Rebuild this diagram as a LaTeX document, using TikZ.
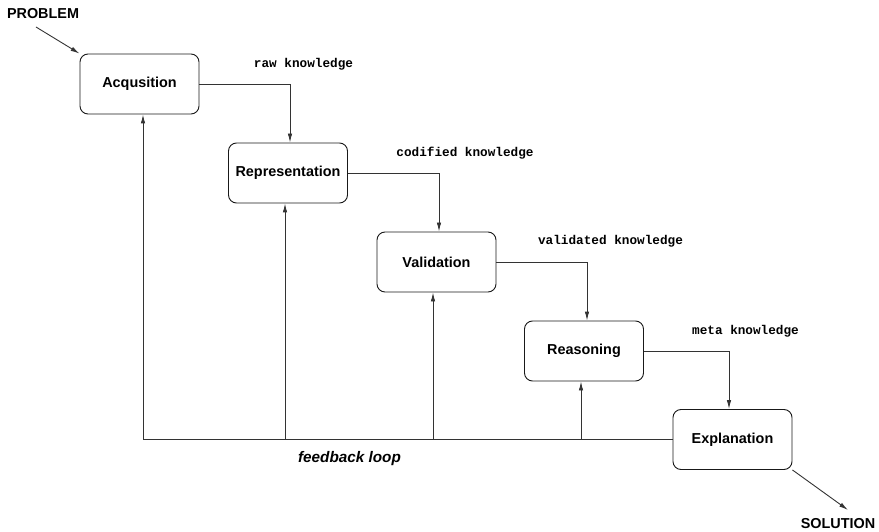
\documentclass[tikz,border=0pt]{standalone}
\usepackage{fontspec}
\setmainfont{Liberation Sans}
\newfontfamily\monob{Liberation Mono}
\usetikzlibrary{arrows.meta,calc}
\tikzset{
  stage/.style={draw=black!90, line width=0.9pt, rounded corners=8pt, minimum width=119pt, minimum height=60pt, inner sep=0pt, font=\fontsize{14.4}{16}\selectfont\bfseries},
  flow/.style={draw=black!80, line width=0.9pt, -{Latex[length=9pt,width=4.5pt]}},
  plain/.style={draw=black!80, line width=0.9pt},
  klabel/.style={font=\monob\fontsize{12.7}{14}\selectfont\bfseries, inner sep=0pt},
  endlabel/.style={font=\fontsize{14.4}{16}\selectfont\bfseries, inner sep=0pt}
}
\begin{document}
\begin{tikzpicture}[x=1pt,y=-1pt]
\useasboundingbox (0,0) rectangle (879,532);
\node[stage] (acq) at (139.5,84) {Acqusition};
\node[stage] (rep) at (288,173) {Representation};
\node[stage] (val) at (436.5,262) {Validation};
\node[stage] (rea) at (584,351) {Reasoning};
\node[stage] (exp) at (732.5,439.5) {Explanation};

\node[klabel] (l1) at (303.5,64.5) {raw knowledge};
\node[klabel] (l2) at (465,153.5) {codified knowledge};
\node[klabel] (l3) at (610.5,241.5) {validated knowledge};
\node[klabel] (l4) at (745.5,331) {meta knowledge};

\node[endlabel] (prob) at (43,14) {PROBLEM};
\node[endlabel] (sol) at (838,524) {SOLUTION};
\node[font=\fontsize{15.3}{17}\selectfont\bfseries\itshape, inner sep=0pt] (fbl) at (349.5,459) {feedback loop};

\coordinate (pin) at (36,27);
\coordinate (sout) at (848,510);
\draw[flow] (pin) -- (acq.north west);
\draw[flow] (exp.south east) -- (sout);

\coordinate (t1) at (290,0);
\coordinate (t2) at (439,0);
\coordinate (t3) at (587,0);
\coordinate (t4) at (729,0);
\draw[flow] (acq.east) -| (t1 |- rep.north);
\draw[flow] (rep.east) -| (t2 |- val.north);
\draw[flow] (val.east) -| (t3 |- rea.north);
\draw[flow] (rea.east) -| (t4 |- exp.north);

\coordinate (f1) at (143,439.5);
\coordinate (f2) at (285,439.5);
\coordinate (f3) at (433,439.5);
\coordinate (f4) at (581,439.5);
\draw[plain] (exp.west) -- (f1);
\draw[flow] (f1) -- (f1 |- acq.south);
\draw[flow] (f2) -- (f2 |- rep.south);
\draw[flow] (f3) -- (f3 |- val.south);
\draw[flow] (f4) -- (f4 |- rea.south);
\end{tikzpicture}
\end{document}
